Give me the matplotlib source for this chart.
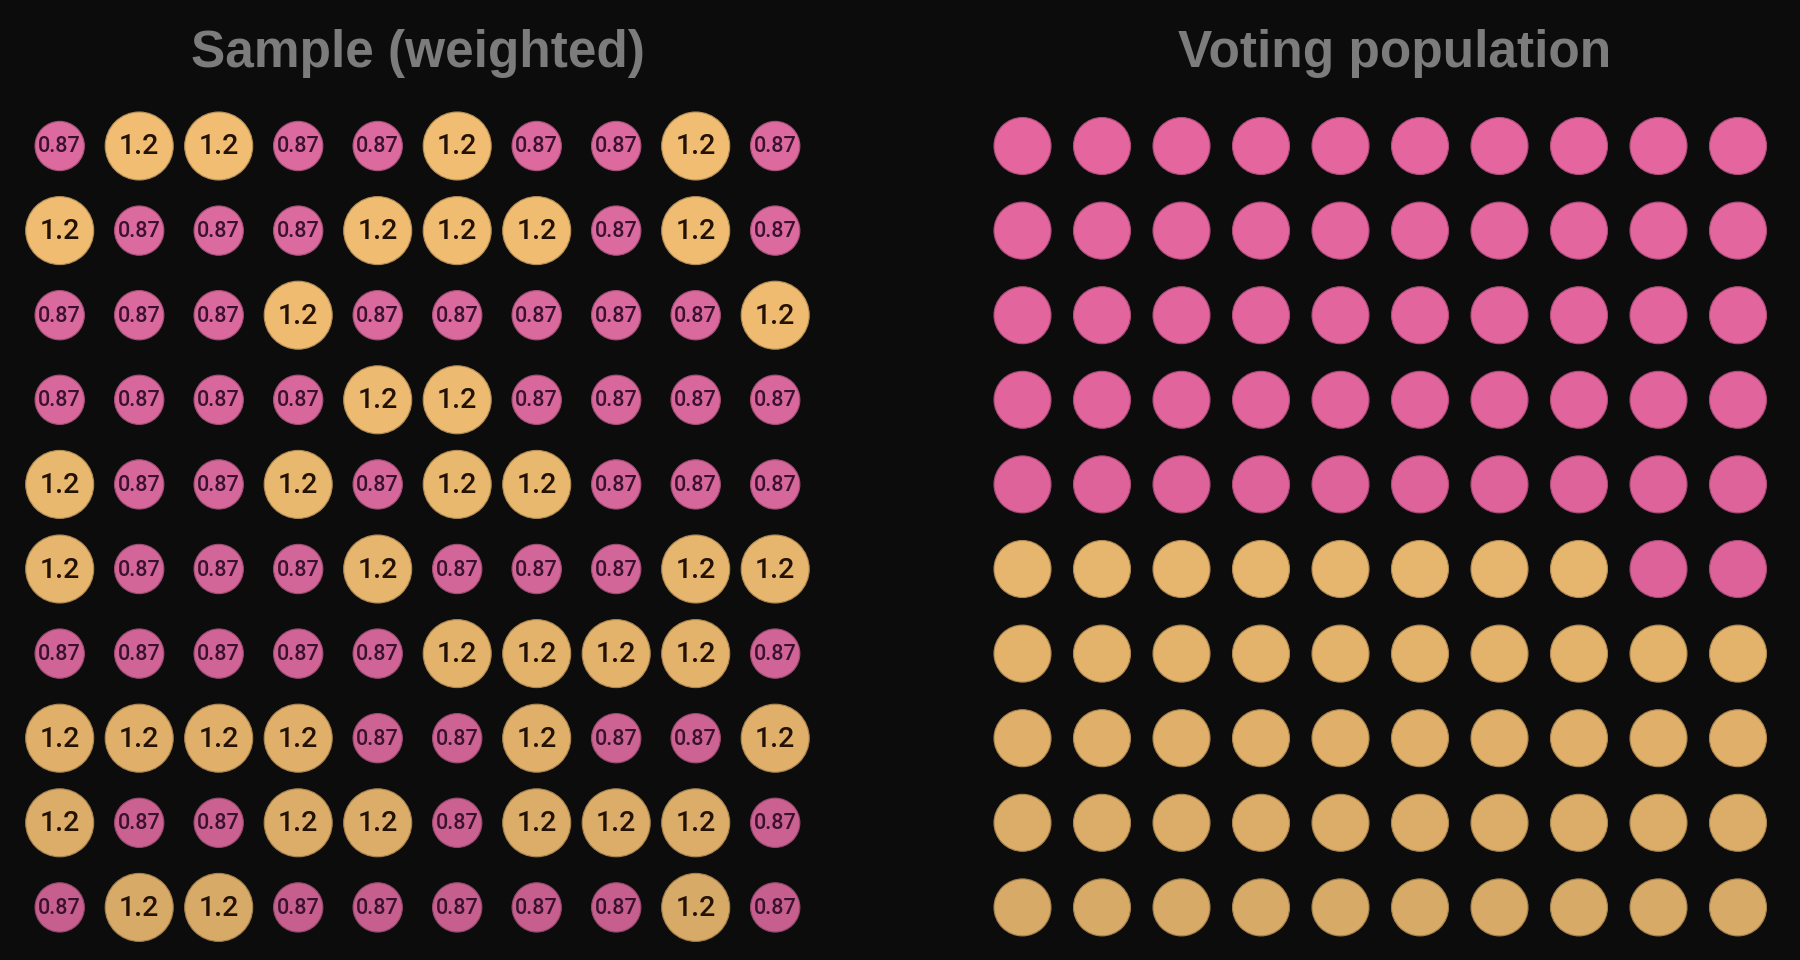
import numpy as np
import matplotlib.pyplot as plt
from matplotlib.patches import Circle
from matplotlib.colors import to_rgb

# weights of each respondent in the sample grid (rows top to bottom)
sample_weights = [
    [0.87, 1.2, 1.2, 0.87, 0.87, 1.2, 0.87, 0.87, 1.2, 0.87],
    [1.2, 0.87, 0.87, 0.87, 1.2, 1.2, 1.2, 0.87, 1.2, 0.87],
    [0.87, 0.87, 0.87, 1.2, 0.87, 0.87, 0.87, 0.87, 0.87, 1.2],
    [0.87, 0.87, 0.87, 0.87, 1.2, 1.2, 0.87, 0.87, 0.87, 0.87],
    [1.2, 0.87, 0.87, 1.2, 0.87, 1.2, 1.2, 0.87, 0.87, 0.87],
    [1.2, 0.87, 0.87, 0.87, 1.2, 0.87, 0.87, 0.87, 1.2, 1.2],
    [0.87, 0.87, 0.87, 0.87, 0.87, 1.2, 1.2, 1.2, 1.2, 0.87],
    [1.2, 1.2, 1.2, 1.2, 0.87, 0.87, 1.2, 0.87, 0.87, 1.2],
    [1.2, 0.87, 0.87, 1.2, 1.2, 0.87, 1.2, 1.2, 1.2, 0.87],
    [0.87, 1.2, 1.2, 0.87, 0.87, 0.87, 0.87, 0.87, 1.2, 0.87],
]
# voting population: 'p' = pink group, 'y' = yellow group
population = [
    "pppppppppp",
    "pppppppppp",
    "pppppppppp",
    "pppppppppp",
    "pppppppppp",
    "yyyyyyyypp",
    "yyyyyyyyyy",
    "yyyyyyyyyy",
    "yyyyyyyyyy",
    "yyyyyyyyyy",
]
titles = ["Sample (weighted)", "Voting population"]

BG = "#0c0c0c"
PINK_L = "#dc6a9e"
PINK_R = "#e5669f"
YELLOW = "#f0bd72"
TITLE_COL = "#7c7c7c"

# layout (pixels)
left_x0, right_x0 = 59.7, 1022.5
dx, y0, dy = 79.5, 146.0, 84.6
r_big = 34.0          # radius for weight 1.2
r_pop = 28.5

fig = plt.figure(figsize=(18, 9.6), dpi=100, facecolor=BG)
ax = fig.add_axes([0, 0, 1, 1])
ax.set_facecolor(BG)
ax.set_xlim(0, 1800)
ax.set_ylim(960, 0)
ax.axis("off")

def shade(c, row):
    # slight darkening towards the bottom rows
    f = 1.0 - 0.10 * (row / 9) ** 1.6
    return tuple(v * f for v in to_rgb(c))

font = ["Roboto", "Liberation Sans", "DejaVu Sans"]
tfont = ["Liberation Sans", "DejaVu Sans"]

for i, row in enumerate(sample_weights):
    for j, w in enumerate(row):
        x = left_x0 + j * dx
        y = y0 + i * dy
        big = w > 1
        col = shade(YELLOW if big else PINK_L, i)
        r = r_big * w / 1.2
        ax.add_patch(Circle((x, y), r, facecolor=col,
                            edgecolor=tuple(v * 0.75 for v in col), lw=0.8))
        ax.text(x, y + 1, f"{w:g}", ha="center", va="center",
                fontsize=20.5 if big else 15.5, family=font, fontweight="medium",
                color="#241205" if big else "#3a1230")

for i, row in enumerate(population):
    for j, g in enumerate(row):
        x = right_x0 + j * dx
        y = y0 + i * dy
        col = shade(YELLOW if g == "y" else PINK_R, i)
        ax.add_patch(Circle((x, y), r_pop, facecolor=col,
                            edgecolor=tuple(v * 0.75 for v in col), lw=0.8))

ax.text(418, 67, titles[0], ha="center", va="baseline", fontsize=37,
        fontweight="bold", family=tfont, color=TITLE_COL)
ax.text(1395, 67, titles[1], ha="center", va="baseline", fontsize=37,
        fontweight="bold", family=tfont, color=TITLE_COL)

fig.savefig("out.png", dpi=100, facecolor=BG)
